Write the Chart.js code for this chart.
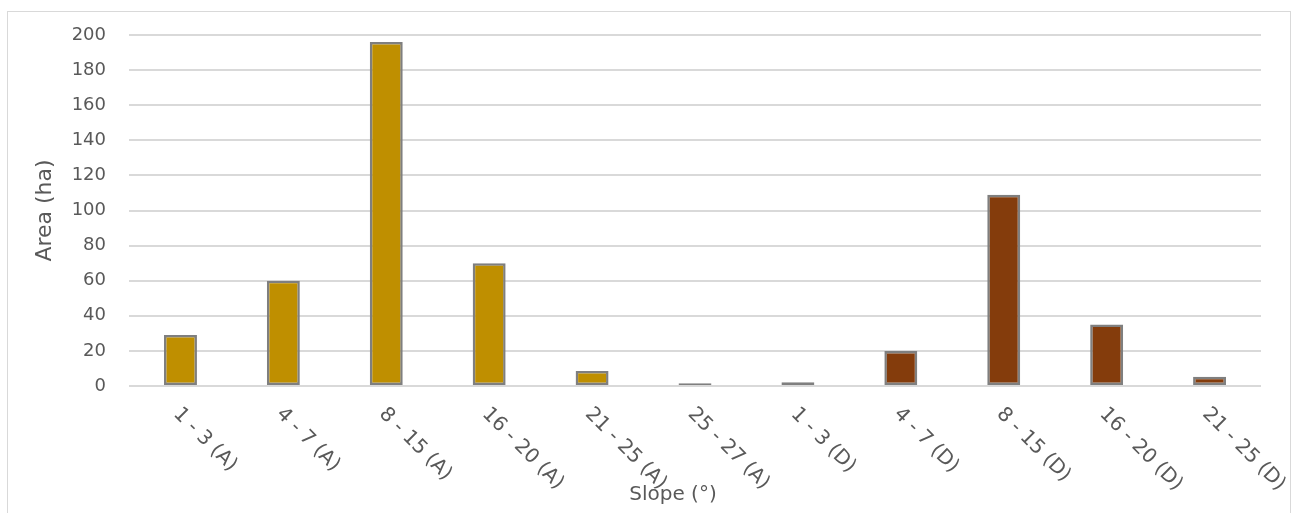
<!DOCTYPE html>
<html>
<head>
  <title>Area by Slope</title>
  <script src="https://cdn.jsdelivr.net/npm/chart.js"></script>
  <style>
    html, body { margin: 0; padding: 0; background: #fff; }
    #wrap { width: 1293px; height: 513px; }
  </style>
</head>
<body>
  <div id="wrap"><canvas id="chart"></canvas></div>

  <script>

const slopeClasses = ['1 - 3 (A)', '4 - 7 (A)', '8 - 15 (A)', '16 - 20 (A)', '21 - 25 (A)', '25 - 27 (A)',
                      '1 - 3 (D)', '4 - 7 (D)', '8 - 15 (D)', '16 - 20 (D)', '21 - 25 (D)'];
const areaHa = [29, 60, 196, 70, 8.5, 1.5, 2.2, 20, 109, 35, 5.3];
const yTicks = [0, 20, 40, 60, 80, 100, 120, 140, 160, 180, 200];

const textColor = '#595959';
const fontFamily = '"DejaVu Sans", sans-serif';

// (A) classes in gold, (D) classes in brown
const barColors = slopeClasses.map(c => c.endsWith('(A)') ? '#BF8F00' : '#843C0C');

// outer frame plus x labels drawn slanting down to the right
const decorations = {
  id: 'decorations',
  beforeDraw(chart) {
    const ctx = chart.ctx;
    ctx.save();
    ctx.strokeStyle = '#D9D9D9';
    ctx.lineWidth = 1;
    ctx.strokeRect(7.5, 11.5, 1283, 520);
    ctx.restore();
  },
  afterDraw(chart) {
    const ctx = chart.ctx;
    const xs = chart.scales.x;
    const base = chart.chartArea.bottom;
    ctx.save();
    ctx.fillStyle = textColor;
    ctx.font = '20px ' + fontFamily;
    ctx.textAlign = 'left';
    ctx.textBaseline = 'middle';
    slopeClasses.forEach((label, i) => {
      const x = xs.getPixelForValue(i);
      ctx.save();
      ctx.translate(x - 4, base + 25);
      ctx.rotate(Math.PI / 4);
      ctx.fillText(label, 0, 0);
      ctx.restore();
    });
    ctx.textAlign = 'center';
    ctx.fillText('Slope (°)', 673, 495);
    ctx.restore();
  }
};

new Chart(document.getElementById('chart'), {
  type: 'bar',
  data: {
    labels: slopeClasses,
    datasets: [{
      label: 'Area (ha)',
      data: areaHa,
      backgroundColor: barColors,
      borderColor: '#7F7F7F',
      borderWidth: 2.5,
      borderSkipped: false,
      barPercentage: 0.32,
      categoryPercentage: 1
    }]
  },
  options: {
    responsive: true,
    maintainAspectRatio: false,
    animation: false,
    layout: { padding: { left: 0, right: 32, top: 35, bottom: 0 } },
    plugins: {
      legend: { display: false },
      tooltip: { enabled: false }
    },
    scales: {
      x: {
        grid: { display: false },
        border: { display: false },
        ticks: { display: false },
        afterFit(scale) { scale.height = 127; }
      },
      y: {
        min: 0,
        max: 200,
        afterBuildTicks(scale) { scale.ticks = yTicks.map(v => ({ value: v })); },
        afterFit(scale) { scale.width = 129; },
        grid: { color: '#D9D9D9', lineWidth: 2, drawTicks: false },
        border: { display: false },
        ticks: {
          padding: 23,
          color: textColor,
          font: { family: fontFamily, size: 18 }
        },
        title: {
          display: true,
          text: 'Area (ha)',
          color: textColor,
          font: { family: fontFamily, size: 22 },
          padding: { top: 32, bottom: 0 }
        }
      }
    }
  },
  plugins: [decorations]
});
  </script>
</body>
</html>
